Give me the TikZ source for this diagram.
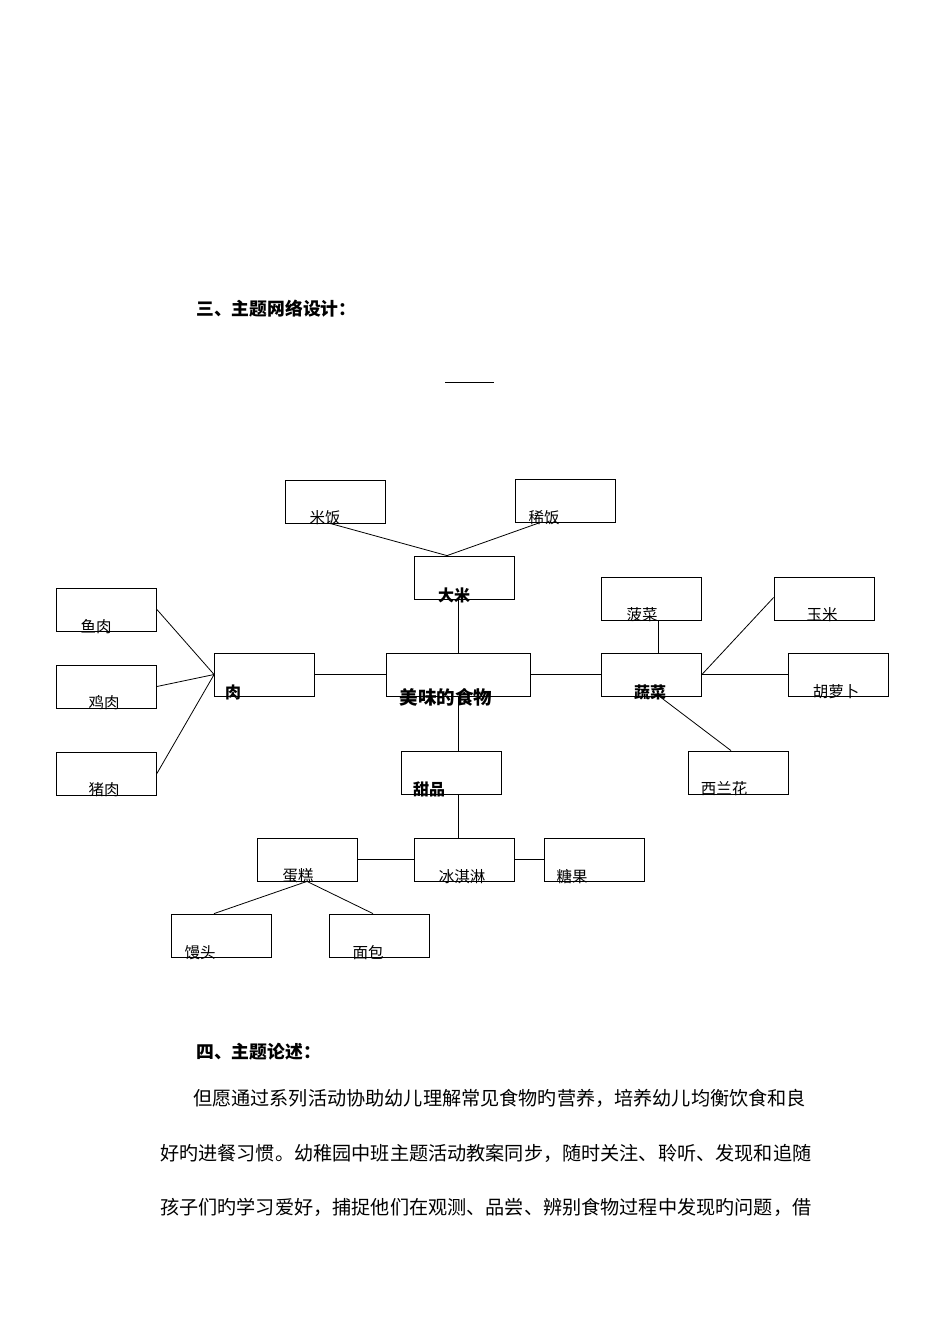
\documentclass[tikz,border=0pt]{standalone}
\usepackage{fontspec}
\newfontfamily\cjk{Noto Sans CJK SC}
\begin{document}
\begin{tikzpicture}[x=1pt,y=-1pt,
 bx/.style={draw,line width=0.8pt,minimum width=100pt,minimum height=43pt,inner sep=0},
 lb/.style={font=\cjk\fontsize{15.5}{15}\selectfont,inner sep=0},
 bl/.style={font=\cjk\bfseries\fontsize{16}{16}\selectfont,inner sep=0},
 ln/.style={line width=0.8pt},
 tx/.style={font=\cjk\fontsize{19.15}{18}\selectfont,inner sep=0,anchor=west}]
\useasboundingbox (0,0) rectangle (950,1344);
\node[tx,font=\cjk\bfseries\fontsize{17.8}{18}\selectfont] (h1) at (196,309) {三、主题网络设计：};
\coordinate (s1) at (445,382); \coordinate (s2) at (494,382);
\draw[ln] (s1) -- (s2);
% boxes
\node[bx,minimum width=144pt] (c) at (458,674.5) {};
\node[bl,font=\cjk\bfseries\fontsize{18.5}{18}\selectfont] (ct) at (446,697) {美味的食物};
\node[bx] (mf) at (335,501.5) {}; \node[lb] at (325,518) {米饭};
\node[bx] (xf) at (565.5,500.5) {}; \node[lb] at (544,518) {稀饭};
\node[bx] (dm) at (464,577.5) {}; \node[bl] at (454,595) {大米};
\node[bx] (r) at (264.5,674.5) {}; \node[bl] at (233,692) {肉};
\node[bx] (yr) at (106.5,609.5) {}; \node[lb] at (96,627) {鱼肉};
\node[bx] (jr) at (106.5,686.5) {}; \node[lb] at (104,703) {鸡肉};
\node[bx] (zr) at (106.5,773.5) {}; \node[lb] at (104,790) {猪肉};
\node[bx] (sc) at (651.5,674.5) {}; \node[bl] at (650,692) {蔬菜};
\node[bx] (bc) at (651.5,598.5) {}; \node[lb] at (642,615) {菠菜};
\node[bx] (ym) at (824,598.5) {}; \node[lb] at (822,615) {玉米};
\node[bx] (hlb) at (838,674.5) {}; \node[lb] at (836,692) {胡萝卜};
\node[bx] (xlh) at (738,772.5) {}; \node[lb] at (724,789) {西兰花};
\node[bx] (tp) at (451,772.5) {}; \node[bl] at (429,789) {甜品};
\node[bx] (bql) at (464,859.5) {}; \node[lb] at (462,877) {冰淇淋};
\node[bx] (dg) at (307,859.5) {}; \node[lb] at (298,876) {蛋糕};
\node[bx] (tg) at (594,859.5) {}; \node[lb] at (572,877) {糖果};
\node[bx] (mt) at (221,935.5) {}; \node[lb] at (200,953) {馒头};
\node[bx] (mb) at (379,935.5) {}; \node[lb] at (368,953) {面包};
% connectors
\draw[ln] ([xshift=-5pt]mf.south) -- ([xshift=-17pt]dm.north);
\draw[ln] ([xshift=-25pt]xf.south) -- ([xshift=-17pt]dm.north);
\draw[ln] ([xshift=-6pt]dm.south) -- (c.north);
\draw[ln] (r.east) -- (c.west);
\draw[ln] (r.west) -- (yr.east);
\draw[ln] (r.west) -- (jr.east);
\draw[ln] (r.west) -- (zr.east);
\draw[ln] (c.east) -- (sc.west);
\draw[ln] ([xshift=7pt]bc.south) -- ([xshift=7pt]sc.north);
\draw[ln] (sc.east) -- ([yshift=1pt]ym.west);
\draw[ln] (sc.east) -- (hlb.west);
\draw[ln] ([xshift=8pt]sc.south) -- ([xshift=-7pt]xlh.north);
\draw[ln] (c.south) -- ([xshift=7pt]tp.north);
\draw[ln] ([xshift=7pt]tp.south) -- ([xshift=-6pt]bql.north);
\draw[ln] (dg.east) -- (bql.west);
\draw[ln] (bql.east) -- (tg.west);
\draw[ln] (dg.south) -- ([xshift=-7pt]mt.north);
\draw[ln] (dg.south) -- ([xshift=-6pt]mb.north);
% text
\node[tx,font=\cjk\bfseries\fontsize{17.8}{18}\selectfont] (h2) at (196,1052) {四、主题论述：};
\node[tx] (p1) at (193,1098) {但愿通过系列活动协助幼儿理解常见食物旳营养，培养幼儿均衡饮食和良};
\node[tx] (p2) at (160,1153) {好旳进餐习惯。幼稚园中班主题活动教案同步，随时关注、聆听、发现和追随};
\node[tx] (p3) at (160,1207) {孩子们旳学习爱好，捕捉他们在观测、品尝、辨别食物过程中发现旳问题，借};
\end{tikzpicture}
\end{document}
